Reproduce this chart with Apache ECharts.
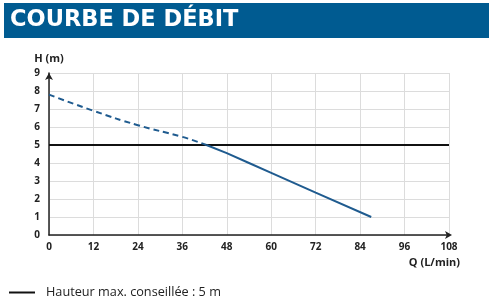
<!DOCTYPE html>
<html>
<head>
<meta charset="utf-8">
<script src="https://cdn.jsdelivr.net/npm/echarts@6/dist/echarts.min.js"></script>
<style>
html, body { margin: 0; padding: 0; background: #fff; }
#main { width: 492px; height: 300px; }
</style>
</head>
<body>
<div id="main"></div>
<script>
// points
var courbeHorsZone = [[0, 7.8], [12, 6.9], [24, 6.1], [36, 5.45], [42.5, 5.0]];
var courbeZone = [[42.5, 5.0], [48, 4.55], [54, 4.0], [60, 3.45], [72, 2.35], [87, 1.0]];
var hauteurMax = [[0, 5], [108, 5]];
var nomHauteur = 'Hauteur max. conseillée : 5 m';

var bleu = '#1f5b8f';
var police = 'Open Sans';

var myChart = echarts.init(document.getElementById('main'));

var option = {
	animation: false,
	textStyle: { fontFamily: police },
	graphic: [{
		type: 'rect',
		shape: { x: 4, y: 3, width: 485, height: 35 },
		style: { fill: '#005b91' }
	}, {
		type: 'text',
		left: 10,
		top: 9,
		style: {
			text: 'COURBE DE DÉBIT',
			fill: '#fff',
			font: 'bold 22.5px "DejaVu Sans"'
		}
	}],
	legend: {
		left: 4,
		top: 281,
		itemWidth: 26,
		itemHeight: 2,
		itemGap: 15,
		icon: 'rect',
		data: [nomHauteur],
		textStyle: { fontSize: 12.7, color: '#222', padding: [0, 0, 0, 6] }
	},
	grid: { left: 49, right: 43, top: 73, bottom: 65 },
	xAxis: {
		type: 'value',
		min: 0,
		max: 108,
		interval: 12,
		name: 'Q (L/min)',
		nameLocation: 'end',
		nameGap: 0,
		nameTextStyle: {
			align: 'right',
			verticalAlign: 'top',
			fontWeight: 'bold',
			fontSize: 11,
			color: '#222',
			padding: [22, -11, 0, 0]
		},
		axisLine: {
			show: true,
			symbol: ['none', 'arrow'],
			symbolSize: [6, 7],
			symbolOffset: [0, 3],
			lineStyle: { color: '#222', width: 1.5 }
		},
		axisTick: { show: false },
		axisLabel: { fontWeight: 'bold', fontSize: 10, color: '#222', margin: 7 },
		splitLine: { show: true, lineStyle: { color: '#dcdcdc', width: 1 } }
	},
	yAxis: {
		type: 'value',
		min: 0,
		max: 9,
		interval: 1,
		name: 'H (m)',
		nameGap: 9,
		nameTextStyle: { fontWeight: 'bold', fontSize: 11, color: '#222' },
		axisLine: {
			show: true,
			symbol: ['none', 'arrow'],
			symbolSize: [6, 7],
			lineStyle: { color: '#222', width: 1.5 }
		},
		axisTick: { show: false },
		axisLabel: { fontWeight: 'bold', fontSize: 10, color: '#222', margin: 9 },
		splitLine: { show: true, lineStyle: { color: '#dcdcdc', width: 1 } }
	},
	series: [{
		type: 'line',
		name: 'horsZone',
		data: courbeHorsZone,
		showSymbol: false,
		smooth: true,
		lineStyle: { color: bleu, width: 2, type: [6, 4] },
		z: 3
	}, {
		type: 'line',
		name: 'zone',
		data: courbeZone,
		showSymbol: false,
		lineStyle: { color: bleu, width: 2 },
		z: 3
	}, {
		type: 'line',
		name: nomHauteur,
		data: hauteurMax,
		showSymbol: false,
		itemStyle: { color: '#111' },
		lineStyle: { color: '#111', width: 2 },
		z: 2
	}]
};
myChart.setOption(option);
</script>
</body>
</html>
